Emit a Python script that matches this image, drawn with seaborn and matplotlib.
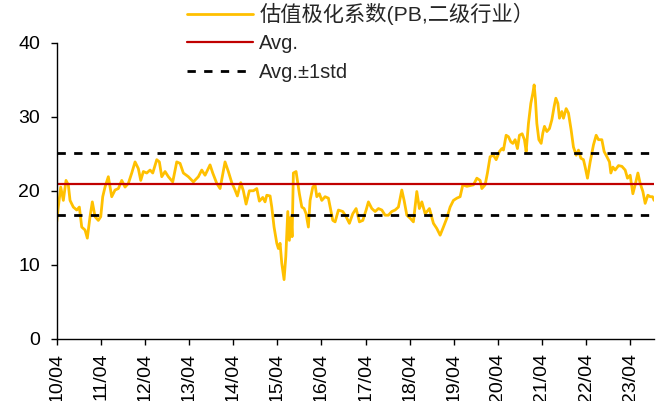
import matplotlib
matplotlib.use("Agg")
import matplotlib.pyplot as plt
import matplotlib.lines as mlines
import seaborn as sns
import pandas as pd

# Polarisation coefficient (PB, level-2 industries), sampled along time (decimal years)
years = [
    2010.247, 2010.283, 2010.338, 2010.397, 2010.458, 2010.510, 2010.549, 2010.623, 2010.701, 2010.760,
    2010.814, 2010.889, 2010.941, 2011.002, 2011.054, 2011.116, 2011.190, 2011.245, 2011.290, 2011.342,
    2011.417, 2011.494, 2011.569, 2011.644, 2011.721, 2011.796, 2011.871, 2011.948, 2012.023, 2012.097,
    2012.152, 2012.211, 2012.288, 2012.363, 2012.424, 2012.515, 2012.574, 2012.628, 2012.703, 2012.778,
    2012.877, 2012.968, 2013.043, 2013.118, 2013.231, 2013.345, 2013.458, 2013.535, 2013.610, 2013.723,
    2013.784, 2013.875, 2013.950, 2014.063, 2014.138, 2014.215, 2014.290, 2014.342, 2014.419, 2014.478,
    2014.540, 2014.614, 2014.705, 2014.782, 2014.841, 2014.918, 2014.970, 2015.009, 2015.084, 2015.122,
    2015.174, 2015.236, 2015.272, 2015.311, 2015.349, 2015.401, 2015.440, 2015.485, 2015.521, 2015.560,
    2015.583, 2015.612, 2015.673, 2015.712, 2015.748, 2015.803, 2015.855, 2015.900, 2015.952, 2015.991,
    2016.052, 2016.104, 2016.143, 2016.202, 2016.256, 2016.331, 2016.406, 2016.460, 2016.506, 2016.558,
    2016.633, 2016.732, 2016.807, 2016.882, 2016.959, 2017.034, 2017.109, 2017.186, 2017.261, 2017.313,
    2017.390, 2017.465, 2017.540, 2017.617, 2017.691, 2017.766, 2017.843, 2017.918, 2017.993, 2018.070,
    2018.122, 2018.184, 2018.258, 2018.333, 2018.410, 2018.469, 2018.524, 2018.599, 2018.696, 2018.787,
    2018.864, 2018.939, 2019.013, 2019.091, 2019.165, 2019.240, 2019.317, 2019.392, 2019.453, 2019.544,
    2019.694, 2019.771, 2019.846, 2019.884, 2019.959, 2020.011, 2020.072, 2020.147, 2020.209, 2020.283,
    2020.338, 2020.374, 2020.435, 2020.487, 2020.542, 2020.587, 2020.639, 2020.691, 2020.737, 2020.798,
    2020.850, 2020.889, 2020.941, 2020.995, 2021.041, 2021.070, 2021.100, 2021.131, 2021.177, 2021.229,
    2021.267, 2021.304, 2021.358, 2021.417, 2021.472, 2021.524, 2021.562, 2021.608, 2021.644, 2021.698,
    2021.735, 2021.796, 2021.848, 2021.909, 2021.961, 2022.023, 2022.075, 2022.129, 2022.188, 2022.227,
    2022.279, 2022.340, 2022.415, 2022.476, 2022.528, 2022.605, 2022.657, 2022.719, 2022.778, 2022.809,
    2022.855, 2022.907, 2022.982, 2023.059, 2023.134, 2023.186, 2023.247, 2023.308, 2023.360, 2023.422,
    2023.474, 2023.535, 2023.587, 2023.648, 2023.701, 2023.753, 2023.790,
]
values = [
    15.8, 17.8, 20.5, 18.7, 21.4, 20.8, 18.7, 17.8, 17.4, 17.8,
    15.1, 14.7, 13.6, 16.5, 18.5, 16.5, 16.0, 16.5, 19.2, 20.5,
    21.9, 19.2, 20.1, 20.3, 21.4, 20.5, 21.0, 22.4, 23.9, 23.0,
    21.4, 22.6, 22.4, 22.8, 22.4, 24.2, 23.9, 21.9, 22.6, 21.9,
    21.2, 23.9, 23.7, 22.4, 21.9, 21.2, 21.9, 22.8, 22.1, 23.5,
    22.4, 21.0, 20.3, 23.9, 22.6, 21.1, 20.1, 19.3, 21.1, 20.0,
    18.2, 20.0, 20.0, 20.3, 18.6, 19.1, 18.5, 19.4, 19.3, 17.8,
    15.1, 12.9, 12.2, 12.9, 10.2, 8.0, 11.1, 17.2, 13.3, 16.5,
    13.8, 22.4, 22.6, 21.0, 19.6, 17.8, 17.6, 16.9, 15.1, 18.7,
    20.5, 20.8, 19.2, 19.6, 18.7, 19.2, 19.0, 17.4, 16.0, 15.8,
    17.4, 17.2, 16.5, 15.6, 16.9, 17.6, 15.8, 16.0, 17.4, 18.5,
    17.6, 17.2, 17.6, 17.4, 16.7, 16.7, 17.2, 17.4, 17.8, 20.1,
    18.7, 16.7, 16.3, 15.8, 19.9, 17.6, 18.5, 16.9, 17.6, 15.6,
    14.9, 14.0, 15.1, 16.3, 17.8, 18.7, 19.0, 19.2, 20.8, 20.6,
    20.8, 21.7, 21.4, 20.3, 20.8, 22.4, 24.6, 24.8, 24.2, 25.3,
    25.7, 25.5, 27.5, 27.3, 26.6, 26.4, 26.9, 25.7, 27.5, 27.7,
    26.9, 25.3, 29.1, 31.8, 33.2, 34.3, 32.3, 29.1, 26.9, 26.4,
    27.8, 28.7, 28.0, 28.4, 29.6, 31.4, 32.5, 31.8, 29.8, 30.7,
    29.8, 31.1, 30.5, 28.2, 25.9, 24.8, 25.5, 24.4, 24.2, 23.2,
    21.7, 23.9, 26.2, 27.5, 26.9, 26.9, 25.3, 24.6, 23.9, 22.4,
    23.2, 22.8, 23.4, 23.3, 22.8, 21.7, 22.1, 19.6, 20.8, 22.4,
    21.0, 19.9, 18.3, 19.4, 19.2, 19.2, 18.7,
]

avg_value = 20.9
std_value = 4.2

tick_years = list(range(2010, 2024))
tick_labels = [f"{y % 100:02d}/04" for y in tick_years]

series_label = "估值极化系数(PB,二级行业）"
avg_label = "Avg."
band_label = "Avg.±1std"

YELLOW = "#FFC000"
RED = "#C00000"

sns.set_style("ticks")
plt.rcParams["font.family"] = ["Liberation Sans", "Noto Sans CJK SC", "DejaVu Sans"]
plt.rcParams["font.size"] = 14

df = pd.DataFrame({"t": years, "v": values})

fig = plt.figure(figsize=(6.72, 4.01), dpi=100)
ax = fig.add_axes([0.0844, 0.155, 0.889, 0.7385])

sns.lineplot(data=df, x="t", y="v", ax=ax, color=YELLOW, linewidth=2.0, legend=False)
ax.axhline(avg_value, color=RED, linewidth=1.6)
ax.axhline(avg_value + std_value, color="black", linewidth=2.0, linestyle=(0, (3, 3)))
ax.axhline(avg_value - std_value, color="black", linewidth=2.0, linestyle=(0, (3, 3)))

ax.set_xlim(years[0], years[-1])
ax.set_ylim(0, 40)
ax.set_yticks([0, 10, 20, 30, 40])
ax.set_xticks([y + 0.247 for y in tick_years])
ax.set_xticklabels(tick_labels, rotation=90)
ax.set_xlabel("")
ax.set_ylabel("")

for side in ("top", "right"):
    ax.spines[side].set_visible(False)
for side in ("left", "bottom"):
    ax.spines[side].set_color("black")
    ax.spines[side].set_linewidth(1.0)
ax.tick_params(axis="both", colors="black", labelsize=14, length=4, width=1.0, direction="out")
ax.tick_params(axis="x", pad=6)
ax.tick_params(axis="y", pad=8)

handles = [
    mlines.Line2D([], [], color=YELLOW, linewidth=2.0),
    mlines.Line2D([], [], color=RED, linewidth=1.6),
    mlines.Line2D([], [], color="black", linewidth=2.0, linestyle=(0, (3, 3))),
]
leg = fig.legend(handles, [series_label, avg_label, band_label],
                 loc="upper left", bbox_to_anchor=(0.266, 1.013), frameon=False,
                 fontsize=14.5, handlelength=3.3, handletextpad=0.3,
                 labelspacing=0.47, borderaxespad=0.0)
leg.get_texts()[0].set_fontweight("light")
leg.get_texts()[0].set_fontsize(15.3)

fig.savefig("out.png", dpi=100)
